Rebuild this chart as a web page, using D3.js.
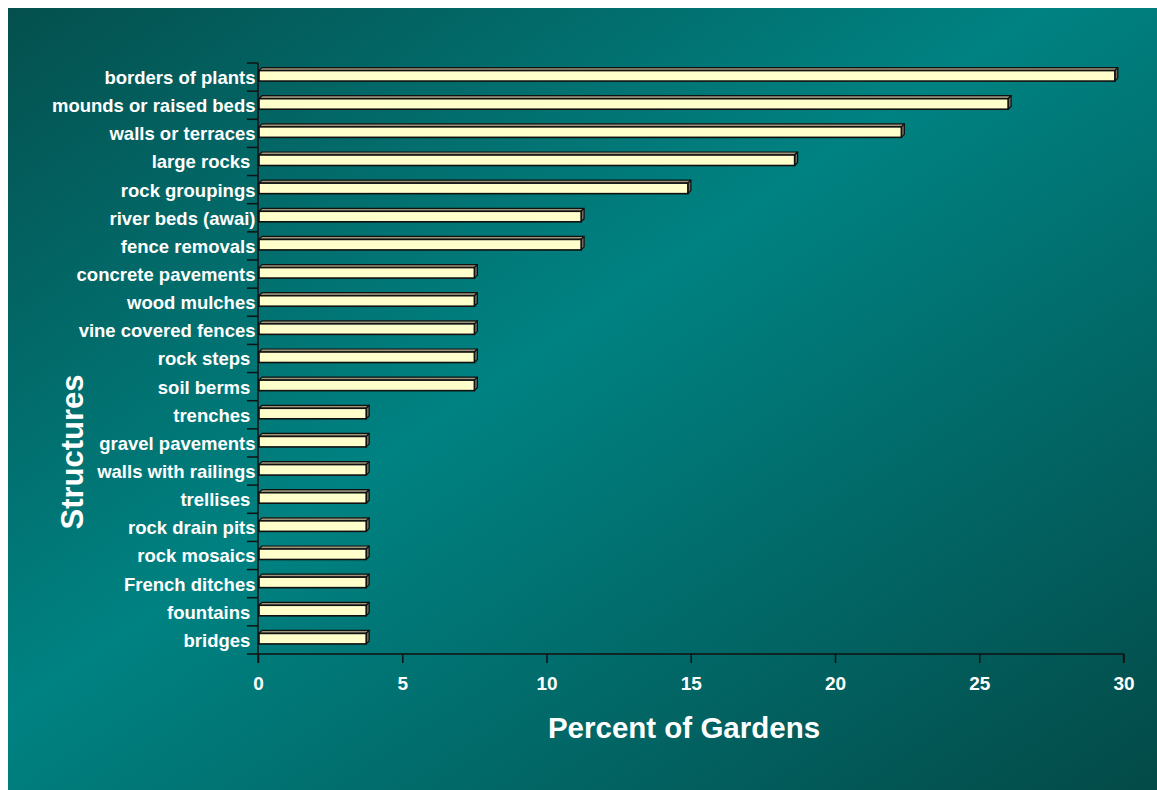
<!DOCTYPE html>
<html>
<head>
<meta charset="utf-8">
<script src="https://cdn.jsdelivr.net/npm/d3@7"></script>
<style>
  html, body { margin: 0; padding: 0; background: #ffffff; }
  svg { display: block; font-family: "Liberation Sans", Arial, Helvetica, sans-serif; font-weight: bold; }
  text.cat { white-space: pre; }
</style>
</head>
<body>
<svg id="chart" width="1157" height="790"></svg>
<script>
// Garden structures and the share of gardens that contain each one
const categories = [
  "borders of plants", "mounds or raised beds", "walls or terraces", "large rocks ",
  "rock groupings", "river beds (awai)", "fence removals", "concrete pavements",
  "wood mulches", "vine covered fences", "rock steps ", "soil berms ", "trenches ",
  "gravel pavements", "walls with railings", "trellises ", "rock drain pits",
  "rock mosaics", "French ditches", "fountains ", "bridges "
];
const percentValues = [
  29.7, 26.0, 22.3, 18.6,
  14.9, 11.2, 11.2, 7.5,
  7.5, 7.5, 7.5, 7.5, 3.75,
  3.75, 3.75, 3.75, 3.75,
  3.75, 3.75, 3.75, 3.75
];
const xTicks = [0, 5, 10, 15, 20, 25, 30];

const svg = d3.select("#chart");
const W = 1157, H = 790;

// Background panel with a diagonal teal gradient
const defs = svg.append("defs");
const grad = defs.append("linearGradient")
  .attr("id", "bg").attr("x1", "0").attr("y1", "0").attr("x2", "1").attr("y2", "1");
grad.append("stop").attr("offset", "0%").attr("stop-color", "#04504e");
grad.append("stop").attr("offset", "45%").attr("stop-color", "#008282");
grad.append("stop").attr("offset", "100%").attr("stop-color", "#034a48");
svg.append("rect").attr("x", 8).attr("y", 8).attr("width", W - 8).attr("height", H - 8)
  .attr("fill", "url(#bg)");

const plot = { left: 258, right: 1123.5, top: 63, bottom: 654 };

const x = d3.scaleLinear().domain([0, 30]).range([plot.left, plot.right]);
const y = d3.scaleBand().domain(categories).range([plot.top, plot.bottom]).padding(0);

const depth = 3;
const faceH = 10.5;

// Bars drawn as 3D blocks: top face, side face, front face
const bars = svg.append("g").selectAll("g.bar")
  .data(categories.map((c, i) => ({ c, v: percentValues[i] })))
  .join("g").attr("class", "bar");

bars.each(function (d) {
  const g = d3.select(this);
  const cy = y(d.c) + y.bandwidth() / 2;
  const x0 = x(0) + 1, x1 = x(d.v);
  const yt = cy - 6.5, yb = yt + faceH;
  g.append("path")
    .attr("d", `M${x0},${yt} L${x0 + depth},${yt - depth} L${x1 + depth},${yt - depth} L${x1},${yt} Z`)
    .attr("fill", "#9b957a").attr("stroke", "#111").attr("stroke-width", 1.2).attr("stroke-linejoin", "round");
  g.append("path")
    .attr("d", `M${x1},${yt} L${x1 + depth},${yt - depth} L${x1 + depth},${yb - depth} L${x1},${yb} Z`)
    .attr("fill", "#6f6b5c").attr("stroke", "#111").attr("stroke-width", 1.2).attr("stroke-linejoin", "round");
  g.append("rect")
    .attr("x", x0).attr("y", yt).attr("width", x1 - x0).attr("height", faceH)
    .attr("fill", "#ffffcc").attr("stroke", "#111").attr("stroke-width", 1.6);
});

// Y axis: line with separator ticks between categories
const yAxisG = svg.append("g");
yAxisG.append("line")
  .attr("x1", plot.left).attr("x2", plot.left)
  .attr("y1", plot.top).attr("y2", plot.bottom + 9)
  .attr("stroke", "#111").attr("stroke-width", 1.5);
const bounds = categories.map(c => y(c)).concat([plot.bottom]);
yAxisG.selectAll("line.sep").data(bounds).join("line").attr("class", "sep")
  .attr("x1", plot.left - 11).attr("x2", plot.left)
  .attr("y1", d => d).attr("y2", d => d)
  .attr("stroke", "#111").attr("stroke-width", 1.5);
yAxisG.selectAll("text.cat").data(categories).join("text").attr("class", "cat")
  .attr("x", plot.left - 2.5)
  .attr("y", d => y(d) + y.bandwidth() / 2 + 0.5)
  .attr("dy", "0.35em")
  .attr("text-anchor", "end")
  .attr("fill", "#ffffff")
  .attr("font-size", 18.5)
  .text(d => d);

// X axis
const xAxis = d3.axisBottom(x).tickValues(xTicks).tickSize(9).tickPadding(14).tickFormat(d3.format("d"));
const xAxisG = svg.append("g").attr("transform", `translate(0,${plot.bottom})`).call(xAxis);
xAxisG.select(".domain").attr("stroke", "#111").attr("stroke-width", 1.5)
  .attr("d", `M${plot.left},0H${plot.right}V9`);
xAxisG.selectAll(".tick line").attr("stroke", "#111").attr("stroke-width", 1.5);
xAxisG.selectAll(".tick text")
  .attr("fill", "#ffffff").attr("font-size", 19)
  .attr("font-family", "'Liberation Sans', Arial, sans-serif").attr("font-weight", "bold");

// Axis titles
svg.append("text")
  .attr("x", 684).attr("y", 738)
  .attr("text-anchor", "middle").attr("fill", "#ffffff").attr("font-size", 29.5)
  .text("Percent of Gardens");
svg.append("text")
  .attr("transform", "translate(83,452) rotate(-90)")
  .attr("text-anchor", "middle").attr("fill", "#ffffff").attr("font-size", 31)
  .text("Structures");
</script>
</body>
</html>
